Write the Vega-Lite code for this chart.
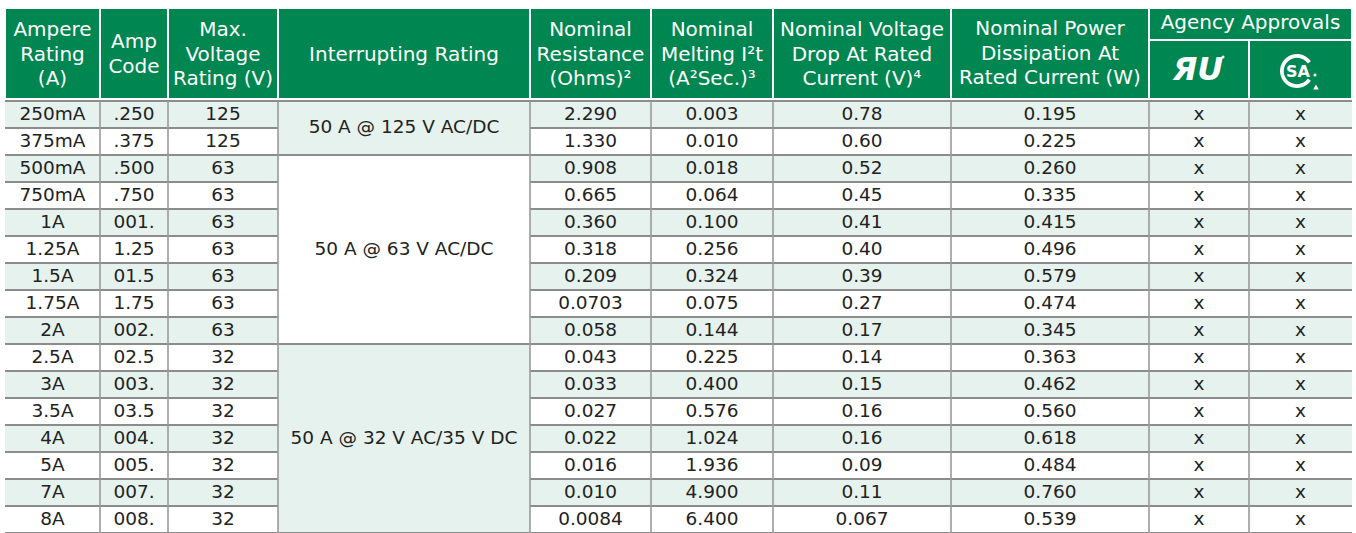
{
  "$schema": "https://vega.github.io/schema/vega-lite/v6.json",
  "padding": 0,
  "spacing": 0,
  "background": "white",
  "config": {"view": {"stroke": null}, "axis": {"disable": true}, "legend": {"disable": true}, "concat": {"spacing": 0}},
  "datasets": {
    "fuses": [
      {"amp": "250mA", "code": ".250", "volt": "125", "rating": "50 A @ 125 V AC/DC", "res": "2.290", "melt": "0.003", "vdrop": "0.78", "power": "0.195", "ul": "x", "csa": "x"},
      {"amp": "375mA", "code": ".375", "volt": "125", "rating": "50 A @ 125 V AC/DC", "res": "1.330", "melt": "0.010", "vdrop": "0.60", "power": "0.225", "ul": "x", "csa": "x"},
      {"amp": "500mA", "code": ".500", "volt": "63", "rating": "50 A @ 63 V AC/DC", "res": "0.908", "melt": "0.018", "vdrop": "0.52", "power": "0.260", "ul": "x", "csa": "x"},
      {"amp": "750mA", "code": ".750", "volt": "63", "rating": "50 A @ 63 V AC/DC", "res": "0.665", "melt": "0.064", "vdrop": "0.45", "power": "0.335", "ul": "x", "csa": "x"},
      {"amp": "1A", "code": "001.", "volt": "63", "rating": "50 A @ 63 V AC/DC", "res": "0.360", "melt": "0.100", "vdrop": "0.41", "power": "0.415", "ul": "x", "csa": "x"},
      {"amp": "1.25A", "code": "1.25", "volt": "63", "rating": "50 A @ 63 V AC/DC", "res": "0.318", "melt": "0.256", "vdrop": "0.40", "power": "0.496", "ul": "x", "csa": "x"},
      {"amp": "1.5A", "code": "01.5", "volt": "63", "rating": "50 A @ 63 V AC/DC", "res": "0.209", "melt": "0.324", "vdrop": "0.39", "power": "0.579", "ul": "x", "csa": "x"},
      {"amp": "1.75A", "code": "1.75", "volt": "63", "rating": "50 A @ 63 V AC/DC", "res": "0.0703", "melt": "0.075", "vdrop": "0.27", "power": "0.474", "ul": "x", "csa": "x"},
      {"amp": "2A", "code": "002.", "volt": "63", "rating": "50 A @ 63 V AC/DC", "res": "0.058", "melt": "0.144", "vdrop": "0.17", "power": "0.345", "ul": "x", "csa": "x"},
      {"amp": "2.5A", "code": "02.5", "volt": "32", "rating": "50 A @ 32 V AC/35 V DC", "res": "0.043", "melt": "0.225", "vdrop": "0.14", "power": "0.363", "ul": "x", "csa": "x"},
      {"amp": "3A", "code": "003.", "volt": "32", "rating": "50 A @ 32 V AC/35 V DC", "res": "0.033", "melt": "0.400", "vdrop": "0.15", "power": "0.462", "ul": "x", "csa": "x"},
      {"amp": "3.5A", "code": "03.5", "volt": "32", "rating": "50 A @ 32 V AC/35 V DC", "res": "0.027", "melt": "0.576", "vdrop": "0.16", "power": "0.560", "ul": "x", "csa": "x"},
      {"amp": "4A", "code": "004.", "volt": "32", "rating": "50 A @ 32 V AC/35 V DC", "res": "0.022", "melt": "1.024", "vdrop": "0.16", "power": "0.618", "ul": "x", "csa": "x"},
      {"amp": "5A", "code": "005.", "volt": "32", "rating": "50 A @ 32 V AC/35 V DC", "res": "0.016", "melt": "1.936", "vdrop": "0.09", "power": "0.484", "ul": "x", "csa": "x"},
      {"amp": "7A", "code": "007.", "volt": "32", "rating": "50 A @ 32 V AC/35 V DC", "res": "0.010", "melt": "4.900", "vdrop": "0.11", "power": "0.760", "ul": "x", "csa": "x"},
      {"amp": "8A", "code": "008.", "volt": "32", "rating": "50 A @ 32 V AC/35 V DC", "res": "0.0084", "melt": "6.400", "vdrop": "0.067", "power": "0.539", "ul": "x", "csa": "x"}
    ],
    "headers": [
      {"label": "Ampere\nRating\n(A)", "x0": 5, "x1": 100, "y0": 8, "y1": 99, "xm": 52.5, "ym": 30},
      {"label": "Amp\nCode", "x0": 100, "x1": 168, "y0": 8, "y1": 99, "xm": 134, "ym": 42},
      {"label": "Max.\nVoltage\nRating (V)", "x0": 168, "x1": 278, "y0": 8, "y1": 99, "xm": 223, "ym": 30},
      {"label": "Interrupting Rating", "x0": 278, "x1": 530, "y0": 8, "y1": 99, "xm": 404, "ym": 55},
      {"label": "Nominal\nResistance\n(Ohms)²", "x0": 530, "x1": 651, "y0": 8, "y1": 99, "xm": 590.5, "ym": 30},
      {"label": "Nominal\nMelting I²t\n(A²Sec.)³", "x0": 651, "x1": 773, "y0": 8, "y1": 99, "xm": 712, "ym": 30},
      {"label": "Nominal Voltage\nDrop At Rated\nCurrent (V)⁴", "x0": 773, "x1": 951, "y0": 8, "y1": 99, "xm": 862, "ym": 30},
      {"label": "Nominal Power\nDissipation At\nRated Current (W)", "x0": 951, "x1": 1149, "y0": 8, "y1": 99, "xm": 1050, "ym": 29},
      {"label": "Agency Approvals", "x0": 1149, "x1": 1352, "y0": 8, "y1": 40, "xm": 1250.5, "ym": 23},
      {"label": "", "x0": 1149, "x1": 1249, "y0": 40, "y1": 99},
      {"label": "", "x0": 1249, "x1": 1352, "y0": 40, "y1": 99}
    ],
    "cols": [
      {"key": "amp", "mid": 52.5},
      {"key": "code", "mid": 134},
      {"key": "volt", "mid": 223},
      {"key": "res", "mid": 590.5},
      {"key": "melt", "mid": 712},
      {"key": "vdrop", "mid": 862},
      {"key": "power", "mid": 1050},
      {"key": "ul", "mid": 1199},
      {"key": "csa", "mid": 1300.5}
    ],
    "vlines": [
      {"x": 100}, {"x": 168}, {"x": 278}, {"x": 530}, {"x": 651}, {"x": 773}, {"x": 951}, {"x": 1149}, {"x": 1249}
    ]
  },
  "vconcat": [
    {
      "width": 1356,
      "height": 99,
      "data": {"name": "headers"},
      "layer": [
        {
          "mark": {"type": "rect", "fill": "#008651", "stroke": "white", "strokeWidth": 2},
          "encoding": {
            "x": {"field": "x0", "type": "quantitative", "scale": {"domain": [0, 1356], "nice": false, "zero": false}, "axis": null},
            "x2": {"field": "x1"},
            "y": {"field": "y0", "type": "quantitative", "scale": {"domain": [0, 99], "nice": false, "zero": false, "reverse": true}, "axis": null},
            "y2": {"field": "y1"}
          }
        },
        {
          "mark": {"type": "text", "color": "white", "font": "DejaVu Sans", "fontSize": 20, "lineBreak": "\n", "lineHeight": 24.5, "baseline": "middle", "align": "center"},
          "encoding": {
            "x": {"field": "xm", "type": "quantitative"},
            "y": {"field": "ym", "type": "quantitative"},
            "text": {"field": "label"}
          }
        },
        {
          "data": {"values": [{"logo": "UL"}]},
          "mark": {"type": "text", "color": "white", "font": "DejaVu Sans", "fontSize": 32, "fontWeight": "bold", "fontStyle": "italic", "baseline": "middle", "align": "center"},
          "encoding": {
            "x": {"datum": 1198, "type": "quantitative"},
            "y": {"datum": 70, "type": "quantitative"},
            "text": {"value": "ЯU"}
          }
        },
        {
          "data": {"values": [{"logo": "UL"}]},
          "mark": {"type": "point", "shape": "circle", "filled": true, "color": "white", "size": 9, "opacity": 1},
          "encoding": {
            "x": {"datum": 1223, "type": "quantitative"},
            "y": {"datum": 57, "type": "quantitative"}
          }
        },
        {
          "data": {"values": [{"logo": "CSA"}]},
          "mark": {"type": "point", "shape": "M0.819,-0.574 A1,1,0,1,0,0.819,0.574 L0.639,0.447 A0.78,0.78,0,1,1,0.639,-0.447 Z", "filled": true, "color": "white", "size": 1150, "opacity": 1, "strokeWidth": 0},
          "encoding": {
            "x": {"datum": 1297, "type": "quantitative"},
            "y": {"datum": 71, "type": "quantitative"}
          }
        },
        {
          "data": {"values": [{"logo": "CSA"}]},
          "mark": {"type": "text", "color": "white", "font": "DejaVu Sans", "fontSize": 16, "fontWeight": "bold", "baseline": "middle", "align": "center"},
          "encoding": {
            "x": {"datum": 1298, "type": "quantitative"},
            "y": {"datum": 72, "type": "quantitative"},
            "text": {"value": "SA"}
          }
        },
        {
          "data": {"values": [{"logo": "CSA"}]},
          "mark": {"type": "point", "shape": "circle", "filled": true, "color": "white", "size": 10, "opacity": 1},
          "encoding": {
            "x": {"datum": 1315, "type": "quantitative"},
            "y": {"datum": 75, "type": "quantitative"}
          }
        },
        {
          "data": {"values": [{"logo": "CSA"}]},
          "mark": {"type": "point", "shape": "triangle-up", "filled": true, "color": "white", "size": 32, "opacity": 1},
          "encoding": {
            "x": {"datum": 1316, "type": "quantitative"},
            "y": {"datum": 87, "type": "quantitative"}
          }
        }
      ]
    },
    {
      "width": 1356,
      "height": 432,
      "data": {"name": "fuses"},
      "layer": [
        {
          "mark": {"type": "rect"},
          "encoding": {
            "x": {"datum": 5, "type": "quantitative", "scale": {"domain": [0, 1356], "nice": false, "zero": false}, "axis": null},
            "x2": {"datum": 1352},
            "y": {"field": "amp", "type": "ordinal", "scale": {"domain": ["250mA", "375mA", "500mA", "750mA", "1A", "1.25A", "1.5A", "1.75A", "2A", "2.5A", "3A", "3.5A", "4A", "5A", "7A", "8A"], "paddingInner": 0, "paddingOuter": 0}, "axis": null},
            "color": {"field": "amp", "type": "nominal", "scale": {"domain": ["250mA", "375mA", "500mA", "750mA", "1A", "1.25A", "1.5A", "1.75A", "2A", "2.5A", "3A", "3.5A", "4A", "5A", "7A", "8A"], "range": ["#e6f2ee", "#ffffff", "#e6f2ee", "#ffffff", "#e6f2ee", "#ffffff", "#e6f2ee", "#ffffff", "#e6f2ee", "#ffffff", "#e6f2ee", "#ffffff", "#e6f2ee", "#ffffff", "#e6f2ee", "#ffffff"]}, "legend": null}
          }
        },
        {
          "mark": {"type": "rule", "color": "#8c8c8c", "strokeWidth": 2},
          "encoding": {
            "x": {"datum": 5, "type": "quantitative"},
            "x2": {"datum": 1352},
            "y": {"field": "amp", "type": "ordinal", "bandPosition": 0, "scale": {"domain": ["250mA", "375mA", "500mA", "750mA", "1A", "1.25A", "1.5A", "1.75A", "2A", "2.5A", "3A", "3.5A", "4A", "5A", "7A", "8A"], "paddingInner": 0, "paddingOuter": 0}, "axis": null}
          }
        },
        {
          "mark": {"type": "rect"},
          "encoding": {
            "x": {"datum": 278, "type": "quantitative"},
            "x2": {"datum": 530},
            "y": {"field": "amp", "type": "ordinal", "scale": {"domain": ["250mA", "375mA", "500mA", "750mA", "1A", "1.25A", "1.5A", "1.75A", "2A", "2.5A", "3A", "3.5A", "4A", "5A", "7A", "8A"], "paddingInner": 0, "paddingOuter": 0}, "axis": null},
            "fill": {"field": "rating", "type": "nominal", "scale": {"domain": ["50 A @ 125 V AC/DC", "50 A @ 63 V AC/DC", "50 A @ 32 V AC/35 V DC"], "range": ["#e6f2ee", "#ffffff", "#e6f2ee"]}, "legend": null}
          }
        },
        {
          "transform": [{"filter": {"field": "amp", "oneOf": ["250mA", "500mA", "2.5A"]}}],
          "mark": {"type": "rule", "color": "#8c8c8c", "strokeWidth": 2},
          "encoding": {
            "x": {"datum": 278, "type": "quantitative"},
            "x2": {"datum": 530},
            "y": {"field": "amp", "type": "ordinal", "bandPosition": 0, "scale": {"domain": ["250mA", "375mA", "500mA", "750mA", "1A", "1.25A", "1.5A", "1.75A", "2A", "2.5A", "3A", "3.5A", "4A", "5A", "7A", "8A"], "paddingInner": 0, "paddingOuter": 0}, "axis": null}
          }
        },
        {
          "transform": [{"filter": {"field": "amp", "equal": "8A"}}],
          "mark": {"type": "rule", "color": "#8c8c8c", "strokeWidth": 2},
          "encoding": {
            "x": {"datum": 5, "type": "quantitative"},
            "x2": {"datum": 1352},
            "y": {"field": "amp", "type": "ordinal", "bandPosition": 1, "scale": {"domain": ["250mA", "375mA", "500mA", "750mA", "1A", "1.25A", "1.5A", "1.75A", "2A", "2.5A", "3A", "3.5A", "4A", "5A", "7A", "8A"], "paddingInner": 0, "paddingOuter": 0}, "axis": null}
          }
        },
        {
          "data": {"name": "vlines"},
          "mark": {"type": "rule", "color": "#9a9a9a", "strokeWidth": 1.6},
          "encoding": {
            "x": {"field": "x", "type": "quantitative"}
          }
        },
        {
          "transform": [
            {"fold": ["amp", "code", "volt", "res", "melt", "vdrop", "power", "ul", "csa"], "as": ["key", "value"]},
            {"lookup": "key", "from": {"data": {"name": "cols"}, "key": "key", "fields": ["mid"]}}
          ],
          "mark": {"type": "text", "color": "#222222", "font": "DejaVu Sans", "fontSize": 18.5, "baseline": "middle", "align": "center", "dy": -1},
          "encoding": {
            "x": {"field": "mid", "type": "quantitative"},
            "y": {"field": "amp", "type": "ordinal", "scale": {"domain": ["250mA", "375mA", "500mA", "750mA", "1A", "1.25A", "1.5A", "1.75A", "2A", "2.5A", "3A", "3.5A", "4A", "5A", "7A", "8A"], "paddingInner": 0, "paddingOuter": 0}, "axis": null},
            "text": {"field": "value"}
          }
        },
        {
          "transform": [{"filter": {"field": "amp", "equal": "375mA"}}],
          "mark": {"type": "text", "color": "#222222", "font": "DejaVu Sans", "fontSize": 18.5, "baseline": "middle", "align": "center", "dy": -1},
          "encoding": {
            "x": {"datum": 404, "type": "quantitative"},
            "y": {"field": "amp", "type": "ordinal", "bandPosition": 0, "scale": {"domain": ["250mA", "375mA", "500mA", "750mA", "1A", "1.25A", "1.5A", "1.75A", "2A", "2.5A", "3A", "3.5A", "4A", "5A", "7A", "8A"], "paddingInner": 0, "paddingOuter": 0}, "axis": null},
            "text": {"field": "rating"}
          }
        },
        {
          "transform": [{"filter": {"field": "amp", "oneOf": ["1.25A", "4A"]}}],
          "mark": {"type": "text", "color": "#222222", "font": "DejaVu Sans", "fontSize": 18.5, "baseline": "middle", "align": "center", "dy": -1},
          "encoding": {
            "x": {"datum": 404, "type": "quantitative"},
            "y": {"field": "amp", "type": "ordinal", "scale": {"domain": ["250mA", "375mA", "500mA", "750mA", "1A", "1.25A", "1.5A", "1.75A", "2A", "2.5A", "3A", "3.5A", "4A", "5A", "7A", "8A"], "paddingInner": 0, "paddingOuter": 0}, "axis": null},
            "text": {"field": "rating"}
          }
        }
      ],
      "resolve": {"scale": {"color": "independent", "fill": "independent"}}
    }
  ]
}
